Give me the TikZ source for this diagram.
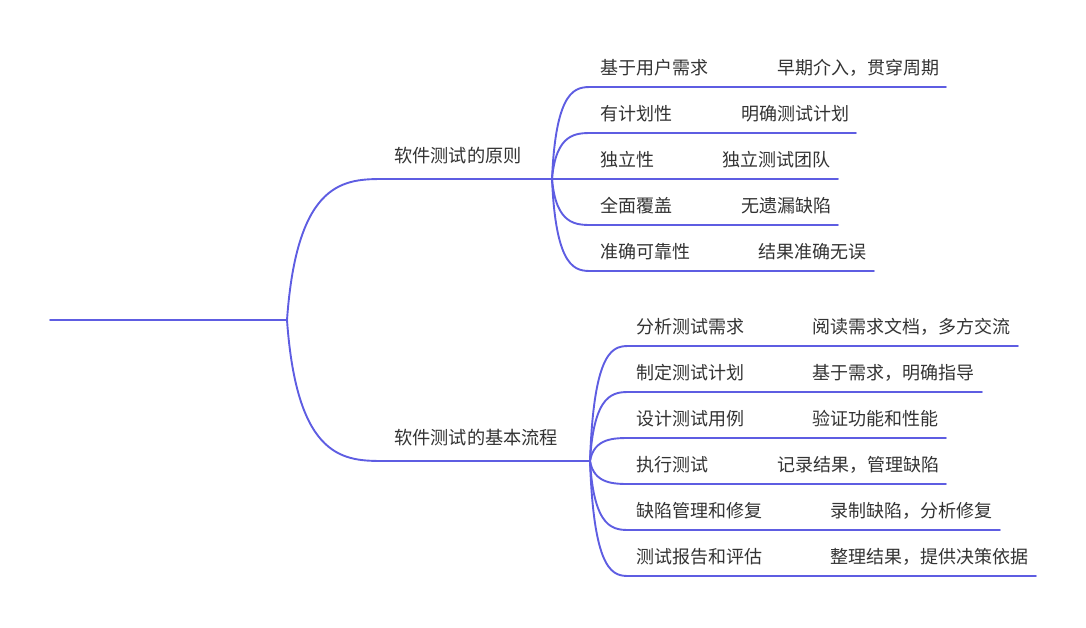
\documentclass[tikz,border=0pt]{standalone}
\usepackage{fontspec}
\newfontfamily\cjk{Noto Sans CJK SC}
\definecolor{edge}{RGB}{94,93,226}
\definecolor{txt}{RGB}{51,51,51}
\tikzset{
  conn/.style={draw=edge, line width=1.9pt, line cap=round},
  topic/.style={anchor=west, inner sep=0pt, text=txt, font=\cjk\fontsize{18.2}{20}\selectfont},
  leaf/.style={anchor=west, inner sep=0pt, text=txt, font=\cjk\fontsize{18}{20}\selectfont},
}
\begin{document}
\begin{tikzpicture}[x=1pt,y=-1pt]
\useasboundingbox (0,0) rectangle (1086,627);
% root
\coordinate (root) at (50,320);
\coordinate (rj) at (287,320);
\draw[conn] (root) -- (rj);
% level 1
\coordinate (a) at (552,179);
\coordinate (as) at (385,179);
\coordinate (b) at (590,461);
\coordinate (bs) at (385,461);
\draw[conn] (rj) .. controls ([xshift=10pt]rj |- as) and ([xshift=58pt]rj |- as) .. (as) -- (a);
\draw[conn] (rj) .. controls ([xshift=10pt]rj |- bs) and ([xshift=58pt]rj |- bs) .. (bs) -- (b);
\node[topic] (ta) at (394,156) {软件测试的原则};
\node[topic] (tb) at (394,438) {软件测试的基本流程};
% branch 1 children
\foreach \i/\y/\e/\l/\rx/\r in {
 1/87/946/基于用户需求/777/早期介入，贯穿周期,
 2/133/856/有计划性/741/明确测试计划,
 3/179/838/独立性/722/独立测试团队,
 4/225/838/全面覆盖/741/无遗漏缺陷,
 5/271/874/准确可靠性/758/结果准确无误}{
  \coordinate (a\i s) at (592,\y);
  \coordinate (a\i e) at (\e,\y);
  \draw[conn] (a) .. controls ([xshift=4pt]a |- a\i s) and ([xshift=24pt]a |- a\i s) .. (a\i s) -- (a\i e);
  \node[leaf] (a\i l) at (600,\y-19) {\l};
  \node[leaf] (a\i r) at (\rx,\y-19) {\r};
}
% branch 2 children
\foreach \i/\y/\e/\l/\rx/\r in {
 1/346/1018/分析测试需求/812/阅读需求文档，多方交流,
 2/392/982/制定测试计划/812/基于需求，明确指导,
 3/438/946/设计测试用例/812/验证功能和性能,
 4/484/946/执行测试/777/记录结果，管理缺陷,
 5/530/1000/缺陷管理和修复/830/录制缺陷，分析修复,
 6/576/1036/测试报告和评估/830/整理结果，提供决策依据}{
  \coordinate (b\i s) at (630,\y);
  \coordinate (b\i e) at (\e,\y);
  \draw[conn] (b) .. controls ([xshift=4pt]b |- b\i s) and ([xshift=24pt]b |- b\i s) .. (b\i s) -- (b\i e);
  \node[leaf] (b\i l) at (636,\y-19) {\l};
  \node[leaf] (b\i r) at (\rx,\y-19) {\r};
}
\end{tikzpicture}
\end{document}
